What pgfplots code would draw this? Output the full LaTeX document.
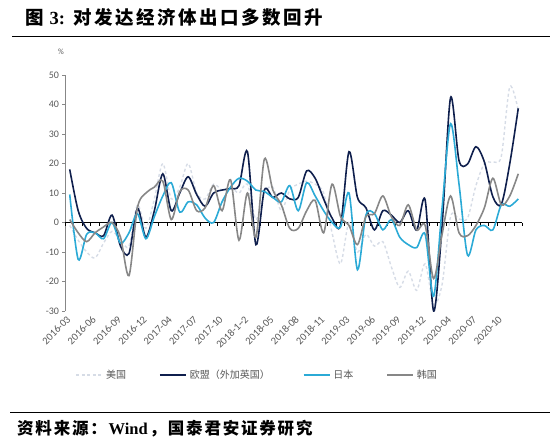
\documentclass[border=0pt]{standalone}
\usepackage{pgfplots}
\pgfplotsset{compat=1.18}
\usepackage{pgfplotstable}
\usepackage{fontspec}
\setmainfont{Carlito}
\newfontfamily\cjk{Noto Sans CJK SC}
\newfontfamily\serifb{Liberation Serif}

\definecolor{usc}{HTML}{D6DCE6}
\definecolor{euc}{HTML}{0F1F4D}
\definecolor{jpc}{HTML}{2BAAD6}
\definecolor{krc}{HTML}{878787}
\definecolor{axc}{HTML}{878787}
\definecolor{txc}{HTML}{595959}

% letter-spaced CJK: \ls{kern}{chars}
\makeatletter
\def\ls#1#2{\def\ls@k{\kern#1}\ls@loop#2\relax}
\def\ls@loop#1{\ifx#1\relax\else#1\ls@k\expandafter\ls@loop\fi}
\makeatother

% idx: 0 = 2016-03 ... 53 = 2020-12 (Jan-Feb combined)
\pgfplotstableread{
idx us eu jp kr
0 -1 18 9.5 1
1 -6 4 -12.5 -3.5
2 -10 -2 -4 -6.5
3 -12 -3.5 -3.5 -3.5
4 -7 -4.5 -5.5 -1.5
5 -3 2.5 0 0
6 -6 -8 -7 -5
7 -8 -10.5 -3.5 -18
8 6 4.8 3 5
9 -2 -5 -5.5 10
10 8 4 2 12
11 20 16.5 9 14
12 8 4 13.5 1
13 12 10 3.5 10.5
14 20 15.5 7 11
15 10 9.5 6 4
16 8 5.5 1.5 5
17 13 10 0 12.5
18 11 11 7 4
19 12 11.5 12 14.5
20 10 12.5 15 -6
21 13 24 14 10
22 1 -7.5 11 -5
23 10 11 10.5 21.5
24 12 8.5 8.5 11
25 4 10 7 6
26 11 8 12.5 -2
27 13 8.5 4 -2
28 14 17.5 13.5 4
29 13 15 9 7.5
30 10 8 4 -3.5
31 -3.5 1.5 0 13
32 -14 -1 -1.5 2
33 0 24 10 -1
34 -10 8.5 -16 -7.5
35 -4 5 2.5 2
36 -8 -2.5 3 3
37 -6.5 4 -2.5 9
38 -15 2.5 1 2
39 -22 0 -5 -1
40 -16.5 4 -7.5 6
41 -23 -2.6 -8.5 -2.5
42 -14 7.6 -4 -1
43 -27.7 -30 -25 -19
44 -21 -1 5 -4
45 2 42.3 33.5 9
46 1.2 21 13 -3.5
47 1.4 19.8 -11 -4.5
48 12.5 25.7 -2.5 -1
49 20 20.5 -1 5
50 20.5 8.7 -2.5 15
51 22.5 6.2 6 6
52 46 20 5.5 9
53 38 38.7 8 16.5
}\exports

\begin{document}
\begin{tikzpicture}[x=1pt,y=1pt]
\path[use as bounding box] (0,0) rectangle (550,-447);

% title and rules
\node[anchor=west, inner sep=0pt] at (25,-17)
  {\fontsize{18.5}{20}\selectfont\cjk\bfseries 图\hspace{6pt}{\serifb\bfseries 3:}\hspace{8pt}\ls{2.5pt}{对发达经济体出口多数回升}};
\draw[line width=1pt] (12,-36) -- (550,-36);
\node[font=\fontsize{8}{9}\selectfont, text=txc] at (61,-52) {\%};

\begin{axis}[
  at={(65.5pt,-311pt)}, anchor=south west,
  scale only axis, width=457pt, height=236pt,
  xmin=-0.5, xmax=53.5, ymin=-30, ymax=50,
  axis lines*=left,
  x axis line style={draw=none},
  y axis line style={draw=axc, line width=1.3pt},
  xtick={0,3,...,51},
  xticklabels={2016-03,2016-06,2016-09,2016-12,2017-04,2017-07,2017-10,2018-1\textasciitilde 2,2018-05,2018-08,2018-11,2019-03,2019-06,2019-09,2019-12,2020-04,2020-07,2020-10},
  xtick style={draw=none},
  xticklabel style={rotate=45, anchor=east, font=\fontsize{10.5}{11}\selectfont, text=txc, yshift=-2pt},
  ytick={-30,-20,...,50},
  ytick style={draw=axc, line width=1pt},
  tick align=outside, major tick length=3pt,
  yticklabel style={font=\fontsize{10}{11}\selectfont, text=txc},
  /pgf/number format/assume math mode=true,
  clip=false,
  legend columns=4,
  legend style={at={(0.421,-0.271)}, anchor=center, draw=none, fill=none,
    font=\cjk\fontsize{10}{12}\selectfont, text=txc,
    /tikz/every even column/.append style={column sep=30pt},
    nodes={inner xsep=3pt}},
  legend image code/.code={\draw[#1] (0pt,0pt) -- (26pt,0pt);},
  every axis plot/.append style={smooth, tension=0.5, line width=1.6pt},
]
\draw[black, line width=1pt] (axis cs:-0.5,0) -- (axis cs:53.5,0);
\pgfplotsinvokeforeach{0,...,54}{\draw[black, line width=1pt] (axis cs:#1-0.5,0) -- ++(0pt,-3.5pt);}

\addplot[usc, dash pattern=on 3pt off 2.5pt, line width=1.4pt] table[x=idx, y=us] {\exports};
\addlegendentry{美国}
\addplot[euc] table[x=idx, y=eu] {\exports};
\addlegendentry{欧盟（外加英国）}
\addplot[jpc] table[x=idx, y=jp] {\exports};
\addlegendentry{日本}
\addplot[krc] table[x=idx, y=kr] {\exports};
\addlegendentry{韩国}
\end{axis}

% source
\draw[line width=1pt] (10,-412) -- (550,-412);
\node[anchor=west, inner sep=0pt] at (17,-429)
  {\fontsize{16.5}{18}\selectfont\cjk\bfseries \ls{1.8pt}{资料来源：}{\serifb\bfseries Wind}\kern1.8pt\ls{1.8pt}{，国泰君安证券研究}};
\end{tikzpicture}
\end{document}
